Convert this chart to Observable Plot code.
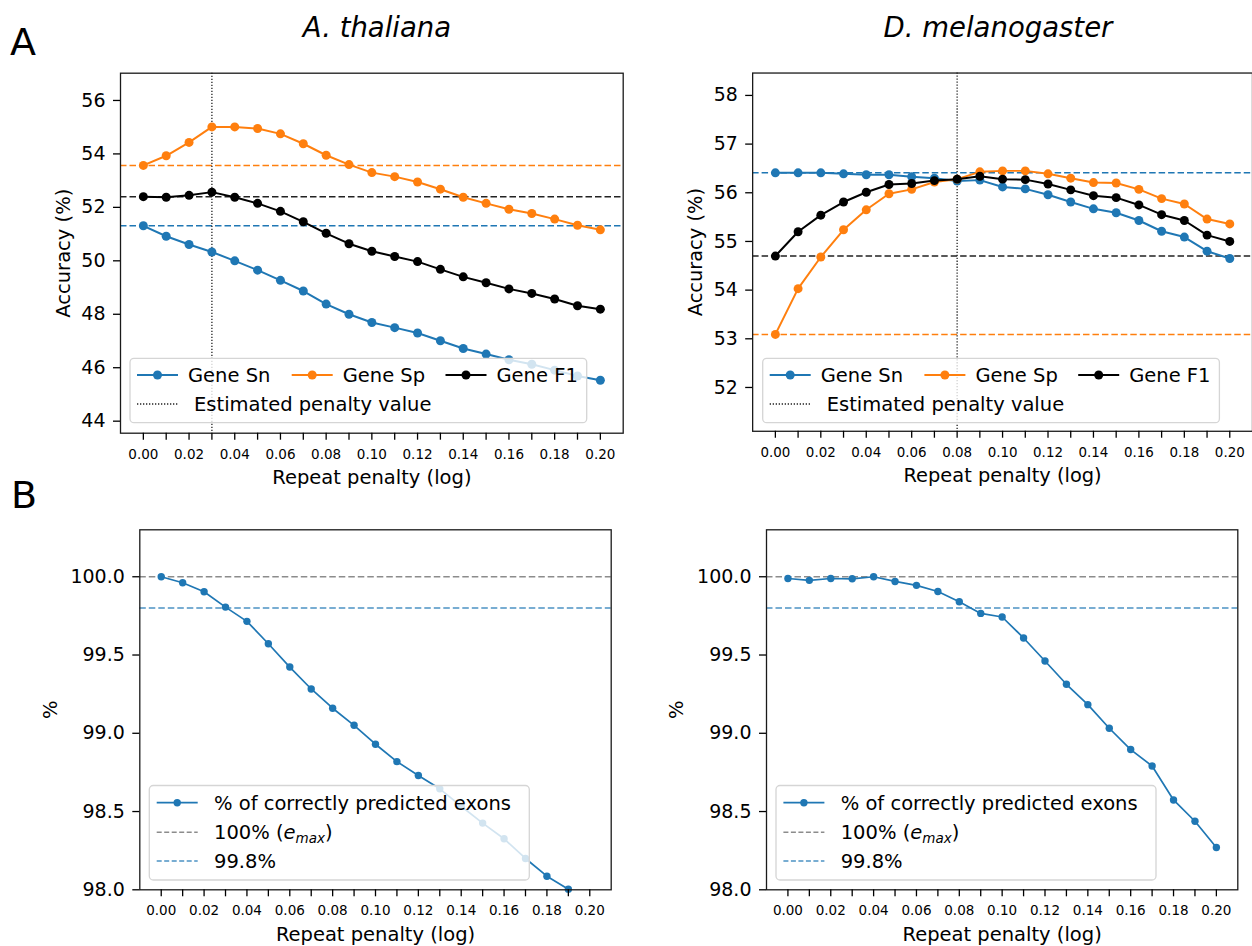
<!DOCTYPE html>
<html><head><meta charset="utf-8">
<script src="https://cdn.jsdelivr.net/npm/d3@7"></script>
<script src="https://cdn.jsdelivr.net/npm/@observablehq/plot@0.6"></script>
<style>
html,body{margin:0;padding:0;background:#fff;overflow:hidden;}
#root{position:relative;width:1252px;height:946px;overflow:hidden;font-family:"DejaVu Sans",sans-serif;}
.pane{position:absolute;}
.pane svg{overflow:visible;}
#overlay{position:absolute;left:0;top:0;pointer-events:none;}
</style></head><body><div id="root"></div>
<script>
// ---------- data ----------
const penalty = [0.00,0.01,0.02,0.03,0.04,0.05,0.06,0.07,0.08,0.09,0.10,0.11,0.12,0.13,0.14,0.15,0.16,0.17,0.18,0.19,0.20];

const athGeneSn = [51.31,50.92,50.61,50.33,50.00,49.65,49.27,48.87,48.38,48.00,47.69,47.50,47.30,47.01,46.72,46.51,46.30,46.13,45.91,45.69,45.53];
const athGeneSp = [53.57,53.93,54.43,55.01,55.01,54.95,54.75,54.38,53.95,53.60,53.30,53.15,52.95,52.68,52.38,52.15,51.93,51.77,51.56,51.33,51.16];
const athGeneF1 = [52.40,52.38,52.45,52.57,52.38,52.15,51.85,51.46,51.03,50.64,50.36,50.16,49.97,49.68,49.40,49.18,48.95,48.78,48.57,48.32,48.19];

const dmeGeneSn = [56.41,56.41,56.41,56.39,56.37,56.37,56.33,56.30,56.24,56.26,56.12,56.08,55.96,55.81,55.67,55.59,55.43,55.21,55.09,54.80,54.65];
const dmeGeneSp = [53.09,54.03,54.68,55.24,55.65,55.98,56.07,56.22,56.28,56.43,56.45,56.45,56.39,56.30,56.21,56.20,56.07,55.88,55.77,55.46,55.36];
const dmeGeneF1 = [54.70,55.20,55.54,55.81,56.01,56.17,56.19,56.25,56.28,56.34,56.28,56.27,56.18,56.06,55.94,55.90,55.75,55.55,55.43,55.13,55.00];

// % of correctly predicted exons (A. thaliana point at 0.20 falls below the axis)
const athExons = [100.00,99.962,99.904,99.806,99.715,99.572,99.423,99.283,99.160,99.051,98.930,98.819,98.730,98.645,98.534,98.426,98.326,98.200,98.087,98.004];
const dmeExons = [99.989,99.977,99.989,99.987,100.00,99.970,99.945,99.906,99.840,99.766,99.743,99.609,99.462,99.313,99.183,99.032,98.896,98.791,98.574,98.438,98.270];

const athEstimatedPenalty = 0.03;
const dmeEstimatedPenalty = 0.08;
const exonMax = 100.0;
const exonThreshold = 99.8;

const yTicksAth = [44,46,48,50,52,54,56];
const yTicksDme = [52,53,54,55,56,57,58];
const yTicksExon = [98.0,98.5,99.0,99.5,100.0];

const seriesNames = ["Gene Sn","Gene Sp","Gene F1"];
const titles = ["A. thaliana","D. melanogaster"];
const xLabel = "Repeat penalty (log)";

// ---------- styles ----------
const BLUE = "#1f77b4", ORANGE = "#ff7f0e", BLACK = "#000000", GRAY = "#8c8c8c";
const FONT = "DejaVu Sans";
const root = document.getElementById("root");

const rows = vals => penalty.map((p, i) => ({p, v: vals[i]})).filter(d => d.v !== undefined);
const fmtX = d => (Math.round(d * 100) % 2 === 0 ? d.toFixed(2) : "");

function series(vals, color, r, sw) {
  const data = rows(vals);
  return [
    Plot.line(data, {x: "p", y: "v", stroke: color, strokeWidth: sw}),
    Plot.dot(data, {x: "p", y: "v", fill: color, r})
  ];
}

function panel({left, top, width, height, mL, mR, mT, mB, yDomain, yTicks, yFmt, marks, yLabel, yLabelDx}) {
  const svg = Plot.plot({
    width, height,
    marginLeft: mL, marginRight: mR, marginTop: mT, marginBottom: mB,
    style: {fontFamily: FONT, fontSize: "19px", color: "black", background: "transparent", overflow: "visible"},
    x: {domain: [-0.01, 0.21]},
    y: {domain: yDomain},
    marks: [
      ...marks,
      Plot.frame({stroke: "#1a1a1a", strokeWidth: 1.3}),
      Plot.axisX({ticks: penalty, tickFormat: fmtX, tickSize: 7, tickPadding: 9, fontSize: 13.5, strokeWidth: 1.3, label: null}),
      Plot.axisY({ticks: yTicks, tickFormat: yFmt, tickSize: 7, tickPadding: 8, fontSize: 19, strokeWidth: 1.3, label: null}),
      Plot.text([xLabel], {frameAnchor: "bottom", dy: 44.5, text: d => d, fontSize: 19.5, lineAnchor: "middle", textAnchor: "middle"}),
      Plot.text([yLabel], {frameAnchor: "left", dx: yLabelDx, rotate: -90, text: d => d, fontSize: 19.5, lineAnchor: "middle", textAnchor: "middle"})
    ]
  });
  const div = document.createElement("div");
  div.className = "pane";
  div.style.left = left + "px";
  div.style.top = top + "px";
  div.appendChild(svg);
  root.appendChild(div);
}

const dash = "6.5,3";
const dotted = "1.3,1.7";

// A - A. thaliana
panel({
  left: 0, top: 40, width: 640, height: 460, mL: 120, mR: 17.3, mT: 32.7, mB: 67.3,
  yDomain: [43.55, 57.02], yTicks: yTicksAth, yFmt: d => String(d),
  yLabel: "Accuracy (%)", yLabelDx: -57,
  marks: [
    Plot.ruleY([athGeneSp[0]], {stroke: ORANGE, strokeWidth: 1.5, strokeDasharray: dash}),
    Plot.ruleY([athGeneF1[0]], {stroke: "#222", strokeWidth: 1.5, strokeDasharray: dash}),
    Plot.ruleY([athGeneSn[0]], {stroke: BLUE, strokeWidth: 1.5, strokeDasharray: dash}),
    Plot.ruleX([athEstimatedPenalty], {stroke: "#222", strokeWidth: 1.3, strokeDasharray: dotted}),
    ...series(athGeneSn, BLUE, 4.5, 2),
    ...series(athGeneSp, ORANGE, 4.5, 2),
    ...series(athGeneF1, BLACK, 4.5, 2)
  ]
});

// A - D. melanogaster
panel({
  left: 640, top: 40, width: 615, height: 460, mL: 112.7, mR: 0, mT: 32.7, mB: 67.3,
  yDomain: [51.1, 58.46], yTicks: yTicksDme, yFmt: d => String(d),
  yLabel: "Accuracy (%)", yLabelDx: -57,
  marks: [
    Plot.ruleY([dmeGeneSn[0]], {stroke: BLUE, strokeWidth: 1.5, strokeDasharray: dash}),
    Plot.ruleY([dmeGeneF1[0]], {stroke: "#222", strokeWidth: 1.5, strokeDasharray: dash}),
    Plot.ruleY([dmeGeneSp[0]], {stroke: ORANGE, strokeWidth: 1.5, strokeDasharray: dash}),
    Plot.ruleX([dmeEstimatedPenalty], {stroke: "#222", strokeWidth: 1.3, strokeDasharray: dotted}),
    ...series(dmeGeneSn, BLUE, 4.5, 2),
    ...series(dmeGeneSp, ORANGE, 4.5, 2),
    ...series(dmeGeneF1, BLACK, 4.5, 2)
  ]
});

// B - exons
const exonMarks = vals => [
  Plot.ruleY([exonMax], {stroke: GRAY, strokeWidth: 1.5, strokeDasharray: dash}),
  Plot.ruleY([exonThreshold], {stroke: BLUE, strokeOpacity: 0.8, strokeWidth: 1.5, strokeDasharray: dash}),
  ...series(vals, BLUE, 3.7, 1.7)
];
panel({
  left: 0, top: 500, width: 640, height: 446, mL: 139.3, mR: 29.3, mT: 29.3, mB: 56.7,
  yDomain: [98.0, 100.3], yTicks: yTicksExon, yFmt: d => d.toFixed(1),
  yLabel: "%", yLabelDx: -89, marks: exonMarks(athExons)
});
panel({
  left: 640, top: 500, width: 612, height: 446, mL: 126, mR: 14.7, mT: 29.3, mB: 56.7,
  yDomain: [98.0, 100.3], yTicks: yTicksExon, yFmt: d => d.toFixed(1),
  yLabel: "%", yLabelDx: -90, marks: exonMarks(dmeExons)
});

// ---------- overlay: panel letters, titles, legends ----------
const NS = "http://www.w3.org/2000/svg";
const ov = document.createElementNS(NS, "svg");
ov.setAttribute("id", "overlay");
ov.setAttribute("width", 1252);
ov.setAttribute("height", 946);
ov.setAttribute("font-family", FONT);
root.appendChild(ov);
function el(tag, attrs, parent = ov) {
  const e = document.createElementNS(NS, tag);
  for (const k in attrs) e.setAttribute(k, attrs[k]);
  parent.appendChild(e);
  return e;
}
function txt(s, attrs) { const t = el("text", attrs); t.textContent = s; return t; }

txt("A", {x: 10, y: 55, "font-size": 38});
txt("B", {x: 11, y: 508, "font-size": 38});
txt(titles[0], {x: 377, y: 36.7, "font-size": 27.5, "font-style": "italic", "text-anchor": "middle"});
txt(titles[1], {x: 998, y: 36.7, "font-size": 27.5, "font-style": "italic", "text-anchor": "middle"});

function legendBox(x, y, w, h) {
  el("rect", {x, y, width: w, height: h, rx: 4, fill: "white", "fill-opacity": 0.8, stroke: "#d5d5d5", "stroke-width": 1.3});
}
function swatchLineDot(x, y, color, r, sw) {
  el("line", {x1: x, x2: x + 41, y1: y, y2: y, stroke: color, "stroke-width": sw});
  el("circle", {cx: x + 20.5, cy: y, r, fill: color});
}
function swatchDash(x, y, color, dasharray, sw, op = 1) {
  el("line", {x1: x, x2: x + 41, y1: y, y2: y, stroke: color, "stroke-width": sw, "stroke-dasharray": dasharray, "stroke-opacity": op});
}

function legendA(L) {
  legendBox(L, 358.3, 456.7, 64.4);
  const colors = [BLUE, ORANGE, BLACK];
  const sx = [7, 161.7, 315.5];
  seriesNames.forEach((n, i) => {
    swatchLineDot(L + sx[i], 375, colors[i], 4.5, 2);
    txt(n, {x: L + sx[i] + 51, y: 381.7, "font-size": 19.5});
  });
  swatchDash(L + 7, 404, "#222", dotted, 1.3);
  txt("Estimated penalty value", {x: L + 64, y: 411, "font-size": 19.5});
}
legendA(130);
legendA(762.7);

function legendB(L) {
  legendBox(L, 785.5, 380, 94.5);
  swatchLineDot(L + 7.4, 802.7, BLUE, 3.7, 1.7);
  txt("% of correctly predicted exons", {x: L + 64.7, y: 809.5, "font-size": 19.5});
  swatchDash(L + 7.4, 832.3, GRAY, "5,2.5", 1.5);
  const t = txt("100% (", {x: L + 64.7, y: 839, "font-size": 19.5});
  const e1 = el("tspan", {"font-style": "italic"}, t); e1.textContent = "e";
  const e2 = el("tspan", {"font-style": "italic", "font-size": 13.5, dy: 4}, t); e2.textContent = "max";
  const e3 = el("tspan", {dy: -4}, t); e3.textContent = ")";
  swatchDash(L + 7.4, 861, BLUE, "5,2.5", 1.5, 0.8);
  txt("99.8%", {x: L + 64.7, y: 868, "font-size": 19.5});
}
legendB(149.3);
legendB(776);
</script></body></html>
